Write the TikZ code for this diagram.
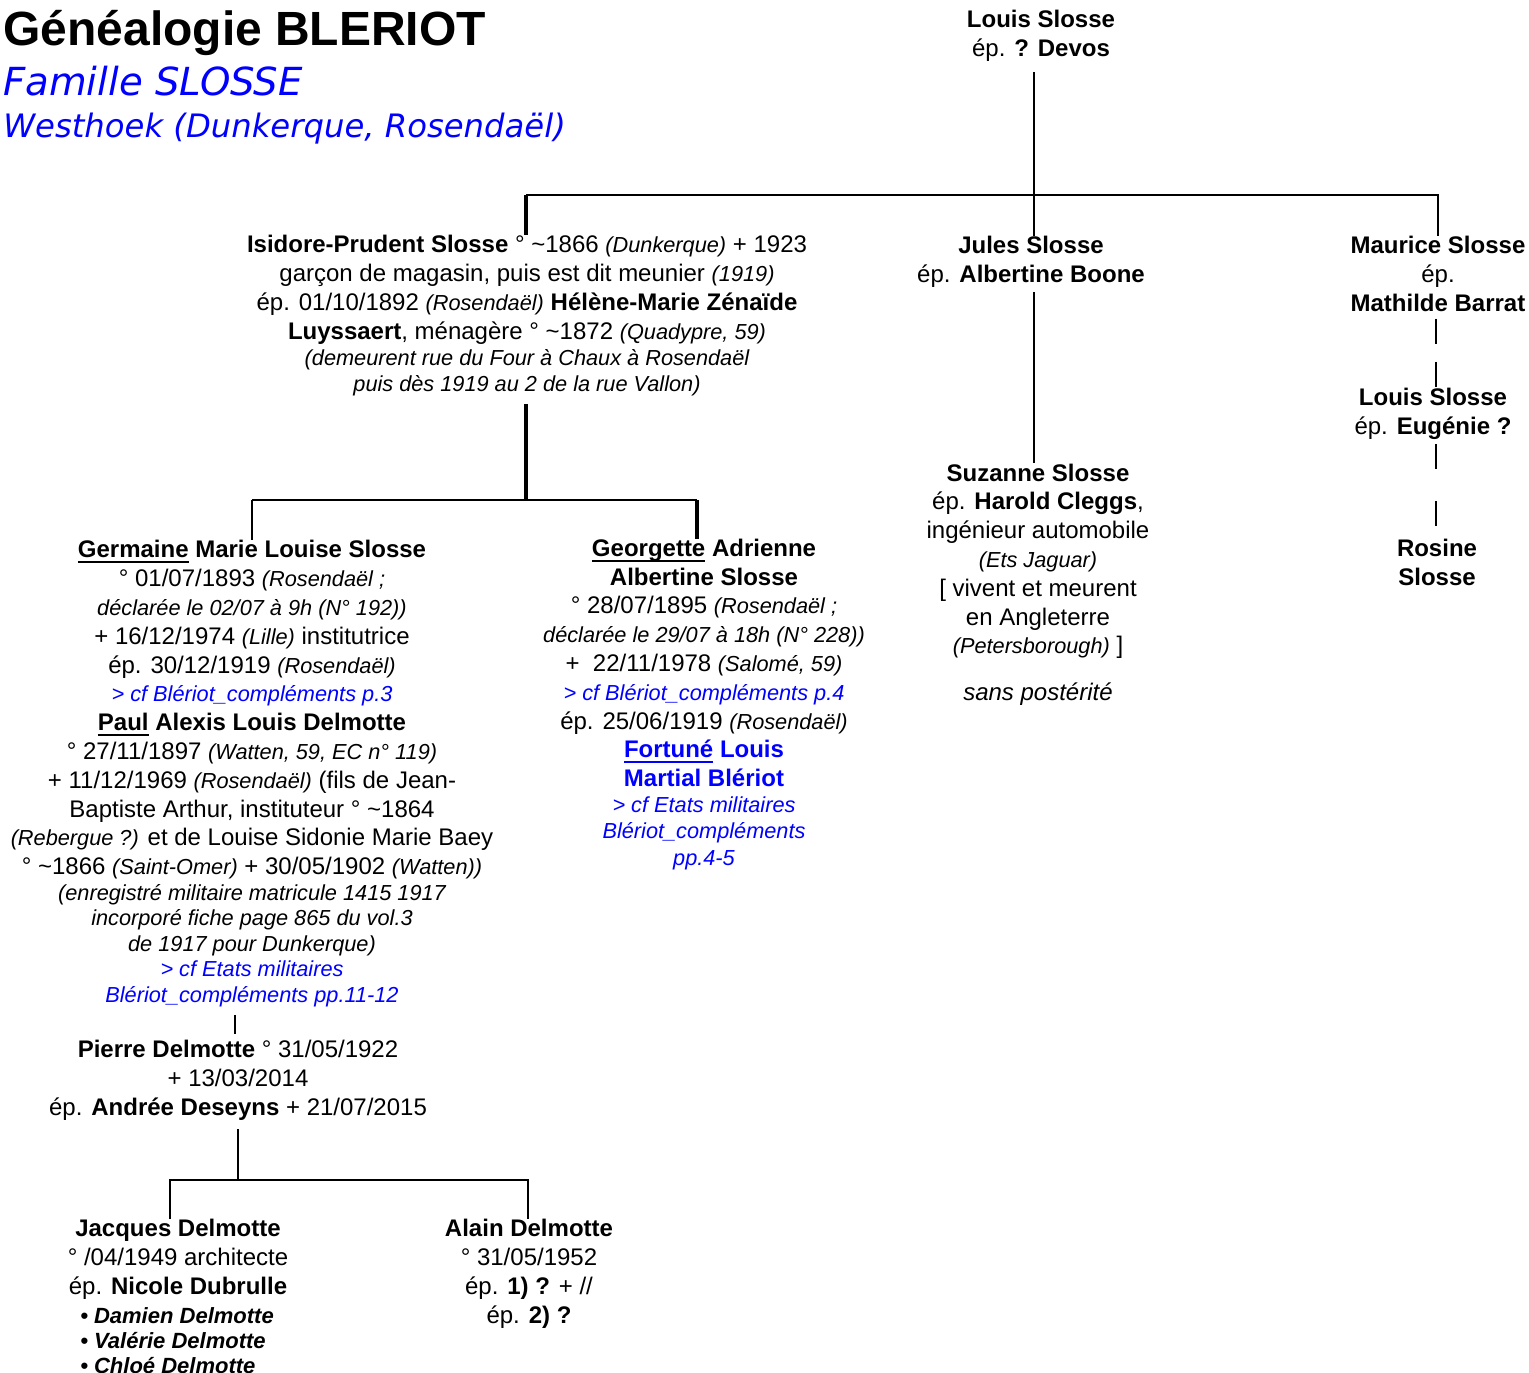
\documentclass[tikz,border=0pt]{standalone}
\usepackage{fontspec}
\setmainfont{Liberation Sans}
\newfontfamily\verdana{DejaVu Sans}
\usetikzlibrary{calc}
\definecolor{bleulien}{RGB}{0,0,255}
\newcommand\petit[1]{{\fontsize{16.3}{19}\selectfont\itshape #1}}
\newcommand\lien[1]{{\color{bleulien}\petit{#1}}}
\newsavebox\boitesoul
\newcommand\souligne[1]{\sbox\boitesoul{#1}\rlap{\rule[-4pt]{\wd\boitesoul}{1.4pt}}\usebox\boitesoul}

\begin{document}
\begin{tikzpicture}[x=0.75pt,y=-0.75pt,
  trait/.style={line width=1.6pt},
  gras/.style={line width=3.5pt},
  bloc/.style={align=center,anchor=base,inner sep=0pt,font=\fontsize{18}{21.6}\selectfont},
  entete/.style={anchor=base west,inner sep=0pt}]
  \useasboundingbox (0,0) rectangle (1529,1372);
  % titre
  \node[entete,font=\fontsize{36}{40}\selectfont\bfseries] (titre) at (3,45) {Généalogie BLERIOT};
  \node[entete,font=\verdana\itshape\fontsize{29}{32}\selectfont,text=bleulien] (famille) at (3,95) {Famille SLOSSE};
  \node[entete,font=\verdana\itshape\fontsize{24.2}{28}\selectfont,text=bleulien] (region) at (3,137) {Westhoek (Dunkerque, Rosendaël)};
  % generation 1 et 2 (ancre = ligne de base de la derniere ligne)
  \node[bloc] (louis) at (1041,56) {\textbf{Louis Slosse}\\ ép. \textbf{? Devos}};
  \node[bloc] (isidore) at (527,391.5) {\textbf{Isidore-Prudent Slosse} ° \textasciitilde1866 \petit{(Dunkerque)} + 1923\\
    garçon de magasin, puis est dit meunier \petit{(1919)}\\
    ép. 01/10/1892 \petit{(Rosendaël)} \textbf{Hélène-Marie Zénaïde}\\
    \textbf{Luyssaert}, ménagère ° \textasciitilde1872 \petit{(Quadypre, 59)}\\[-2pt]
    \petit{(demeurent rue du Four à Chaux à Rosendaël}\\[-2pt]
    \petit{puis dès 1919 au 2 de la rue Vallon)}};
  \node[bloc] (jules) at (1031,282) {\textbf{Jules Slosse}\\ ép. \textbf{Albertine Boone}};
  \node[bloc] (maurice) at (1438,311) {\textbf{Maurice Slosse}\\ ép.\\ \textbf{Mathilde Barrat}};
  \node[bloc] (louisb) at (1433,434) {\textbf{Louis Slosse}\\ ép. \textbf{Eugénie ?}};
  \node[bloc] (rosine) at (1437,585) {\textbf{Rosine}\\ \textbf{Slosse}};
  \node[bloc] (suzanne) at (1038,700) {\textbf{Suzanne Slosse}\\
    ép. \textbf{Harold Cleggs},\\
    ingénieur automobile\\
    \petit{(Ets Jaguar)}\\
    {[} vivent et meurent\\
    en Angleterre\\
    \petit{(Petersborough)} ]\\[13pt]
    \textit{sans postérité}};
  % generation 3
  \node[bloc] (germaine) at (252,1002) {\souligne{\textbf{Germaine}} \textbf{Marie Louise Slosse}\\
    ° 01/07/1893 \petit{(Rosendaël ;}\\
    \petit{déclarée le 02/07 à 9h (N° 192))}\\
    + 16/12/1974 \petit{(Lille)} institutrice\\
    ép. 30/12/1919 \petit{(Rosendaël)}\\
    \lien{> cf Blériot\_compléments p.3}\\
    \souligne{\textbf{Paul}} \textbf{Alexis Louis Delmotte}\\
    ° 27/11/1897 \petit{(Watten, 59, EC n° 119)}\\
    + 11/12/1969 \petit{(Rosendaël)} (fils de Jean-\\
    Baptiste Arthur, instituteur ° \textasciitilde1864\\
    \petit{(Rebergue ?)} et de Louise Sidonie Marie Baey\\
    ° \textasciitilde1866 \petit{(Saint-Omer)} + 30/05/1902 \petit{(Watten))}\\[-2.5pt]
    \petit{(enregistré militaire matricule 1415 1917}\\[-2.5pt]
    \petit{incorporé fiche page 865 du vol.3}\\[-2.5pt]
    \petit{de 1917 pour Dunkerque)}\\[-2.5pt]
    \lien{> cf Etats militaires}\\[-2.5pt]
    \lien{Blériot\_compléments pp.11-12}};
  \node[bloc] (georgette) at (704,865) {\souligne{\textbf{Georgette}} \textbf{Adrienne}\\
    \textbf{Albertine Slosse}\\
    ° 28/07/1895 \petit{(Rosendaël ;}\\
    \petit{déclarée le 29/07 à 18h (N° 228))}\\
    +\ \ 22/11/1978 \petit{(Salomé, 59)}\\
    \lien{> cf Blériot\_compléments p.4}\\
    ép. 25/06/1919 \petit{(Rosendaël)}\\
    {\color{bleulien}\souligne{\textbf{Fortuné}} \textbf{Louis}}\\
    {\color{bleulien}\textbf{Martial Blériot}}\\[-2pt]
    \lien{> cf Etats militaires}\\[-2pt]
    \lien{Blériot\_compléments}\\[-2pt]
    \lien{pp.4-5}};
  % generation 4 et 5
  \node[bloc] (pierre) at (238,1115) {\textbf{Pierre Delmotte} ° 31/05/1922\\
    + 13/03/2014\\
    ép. \textbf{Andrée Deseyns} + 21/07/2015};
  \node[bloc] (jacques) at (178,1294) {\textbf{Jacques Delmotte}\\
    ° /04/1949 architecte\\
    ép. \textbf{Nicole Dubrulle}};
  \node[entete,align=left,font=\fontsize{16.5}{18.75}\selectfont\bfseries\itshape] (enfants) at (80,1373)
    {\textbullet\ Damien Delmotte\\ \textbullet\ Valérie Delmotte\\ \textbullet\ Chloé Delmotte};
  \node[bloc] (alain) at (529,1323) {\textbf{Alain Delmotte}\\
    ° 31/05/1952\\
    ép. \textbf{1) ?} + //\\
    ép. \textbf{2) ?}};
  % liens
  \coordinate (fr) at (1034,195);
  \coordinate (b1g) at (526,195);
  \coordinate (b1d) at (1438,195);
  \coordinate (b2) at (526,500);
  \coordinate (b2g) at (252,500);
  \coordinate (b2d) at (697,500);
  \coordinate (b3) at (238,1180);
  \coordinate (b3g) at (170,1180);
  \coordinate (b3d) at (528,1180);
  \coordinate (axe) at (1436,0);
  \draw[trait] ($(louis.south -| fr)+(0,11)$) -- (jules.north -| fr);
  \draw[trait] (b1g) -- (b1d) -- (maurice.north -| b1d);
  \draw[gras] (b1g) -- (isidore.north -| b1g);
  \draw[trait] ($(jules.south -| fr)+(0,5)$) -- (suzanne.north -| fr);
  \draw[trait,dash pattern=on 18.75pt off 13.5pt] ($(maurice.south -| axe)+(0,7)$) -- ($(louisb.north -| axe)+(0,-1)$);
  \draw[trait,dash pattern=on 18.75pt off 24pt] ($(louisb.south -| axe)+(0,5)$) -- ($(rosine.north -| axe)+(0,-12)$);
  \draw[gras] ($(isidore.south -| b2)+(0,8)$) -- (b2);
  \draw[trait] (b2g) -- (b2d);
  \draw[trait] (b2g) -- (germaine.north -| b2g);
  \draw[gras] (b2d) -- (georgette.north -| b2d);
  \draw[trait] ($(germaine.south -| pierre.north)+(-3,8)$) -- ($(pierre.north)+(-3,-6)$);
  \draw[trait] ($(pierre.south)+(0,9)$) -- (b3);
  \draw[trait] (jacques.north -| b3g) -- (b3g) -- (b3d) -- (alain.north -| b3d);
\end{tikzpicture}
\end{document}
